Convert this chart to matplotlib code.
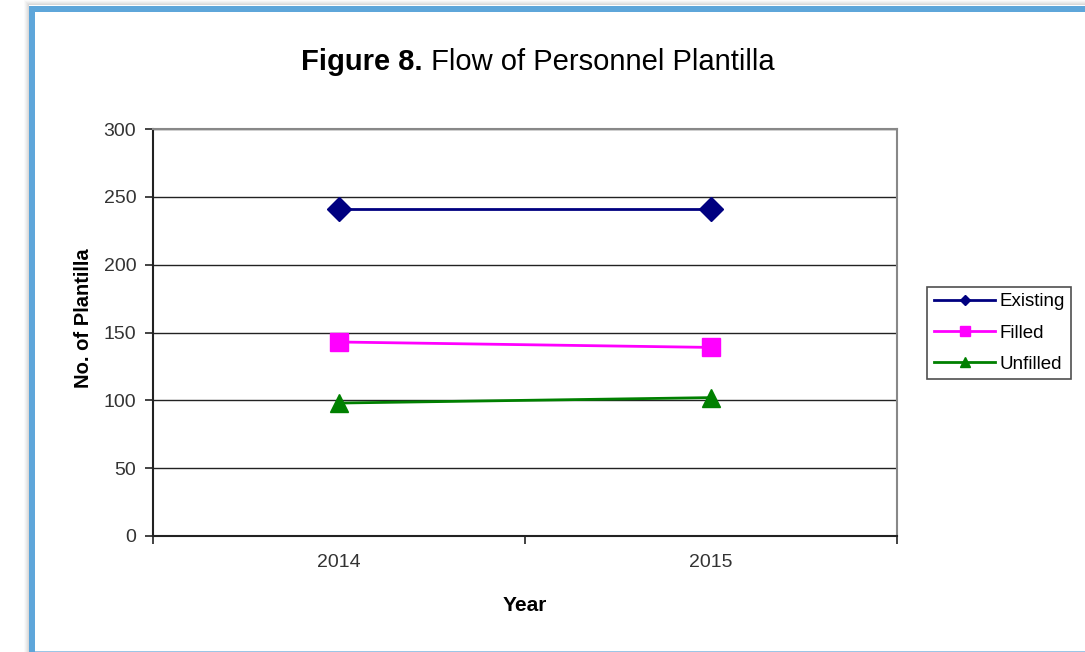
import matplotlib
matplotlib.use("Agg")
import matplotlib.pyplot as plt
from matplotlib.patches import Rectangle
from matplotlib.lines import Line2D

plt.rcParams['font.family'] = ['Liberation Sans', 'DejaVu Sans']

years = ["2014", "2015"]
existing = [241, 241]
filled = [143, 139]
unfilled = [98, 102]
yticks = [0, 50, 100, 150, 200, 250, 300]

W, H = 1085, 652
fig = plt.figure(figsize=(W / 100, H / 100), dpi=100)
fig.patch.set_facecolor("white")

# shadow + blue frame of the screenshot
shades = ["#fafafa", "#f3f3f3", "#ebebeb", "#e2e2e2", "#d9d9d9"]
for i, c in enumerate(shades):
    fig.add_artist(Rectangle(((24 + i) / W, 0), 1 / W, (H - 1 - i) / H,
                             transform=fig.transFigure, facecolor=c, edgecolor="none"))
    fig.add_artist(Rectangle(((24 + i) / W, (H - 1 - i) / H), 1, 1 / H,
                             transform=fig.transFigure, facecolor=c, edgecolor="none"))
fig.add_artist(Rectangle((29 / W, 0), 6 / W, (H - 6) / H, transform=fig.transFigure,
                         facecolor="#5ea6da", edgecolor="none"))
fig.add_artist(Rectangle((29 / W, (H - 12) / H), 1, 6 / H, transform=fig.transFigure,
                         facecolor="#5ea6da", edgecolor="none"))
fig.add_artist(Rectangle((35 / W, 0), 1, 1.5 / H, transform=fig.transFigure,
                         facecolor="#9cc6e6", edgecolor="none"))

left, right, top, bottom = 153, 897, 129, 536
ax = fig.add_axes([left / W, 1 - bottom / H, (right - left) / W, (bottom - top) / H])

x = list(range(len(years)))
ax.plot(x, existing, color="#000080", lw=2, marker="D", ms=12, label="Existing", zorder=5)
ax.plot(x, filled, color="#ff00ff", lw=2, marker="s", ms=12.5, label="Filled", zorder=5)
ax.plot(x, unfilled, color="#008000", lw=2, marker="^", ms=12.5, label="Unfilled", zorder=5)

ax.set_xlim(-0.5, len(years) - 0.5)
ax.set_ylim(0, 300)
ax.set_yticks(yticks)
ax.set_yticklabels([str(t) for t in yticks], fontsize=14, color="#333333")
ax.yaxis.grid(True, color="#222222", lw=1)
ax.set_axisbelow(True)

ax.set_xticks([i - 0.5 for i in range(len(years) + 1)])
ax.set_xticklabels([""] * (len(years) + 1))
ax.set_xticks(x, minor=True)
ax.set_xticklabels(years, minor=True, fontsize=14, color="#333333")
ax.tick_params(axis="x", which="minor", length=0, pad=13)
ax.tick_params(axis="x", which="major", length=6, width=1.2, color="#222222", direction="out")
ax.tick_params(axis="y", length=6, width=1.2, color="#222222", pad=6)

for s in ["top", "right"]:
    ax.spines[s].set_color("#888888")
    ax.spines[s].set_linewidth(1.5)
for s in ["left", "bottom"]:
    ax.spines[s].set_color("#222222")
    ax.spines[s].set_linewidth(1.5)

ax.set_ylabel("No. of Plantilla", fontsize=14.5, fontweight="bold")
ax.yaxis.set_label_coords(-0.08, 0.536)
ax.set_xlabel("Year", fontsize=15, fontweight="bold", labelpad=18)

handles = [
    Line2D([], [], color="#000080", lw=2, marker="D", ms=5),
    Line2D([], [], color="#ff00ff", lw=2, marker="s", ms=7),
    Line2D([], [], color="#008000", lw=2, marker="^", ms=7),
]
leg = fig.legend(handles, ["Existing", "Filled", "Unfilled"],
                 loc="center left", bbox_to_anchor=(927 / W, 1 - 333 / H),
                 fontsize=13.5, frameon=True, fancybox=False, edgecolor="#222222",
                 borderpad=0.35, handlelength=3.3, handletextpad=0.2,
                 labelspacing=0.75, borderaxespad=0)
leg.get_frame().set_linewidth(1.2)

# title: bold part + regular part, centered together
renderer = fig.canvas.get_renderer()
tb = fig.text(0, 1 - 62 / H, "Figure 8.", fontsize=21, fontweight="bold", va="center")
tr = fig.text(0, 1 - 62 / H, " Flow of Personnel Plantilla", fontsize=21, va="center")
wb = tb.get_window_extent(renderer).width
wr = tr.get_window_extent(renderer).width
x0 = 538 - (wb + wr) / 2
tb.set_x(x0 / W)
tr.set_x((x0 + wb) / W)

fig.savefig("out.png", dpi=100)
